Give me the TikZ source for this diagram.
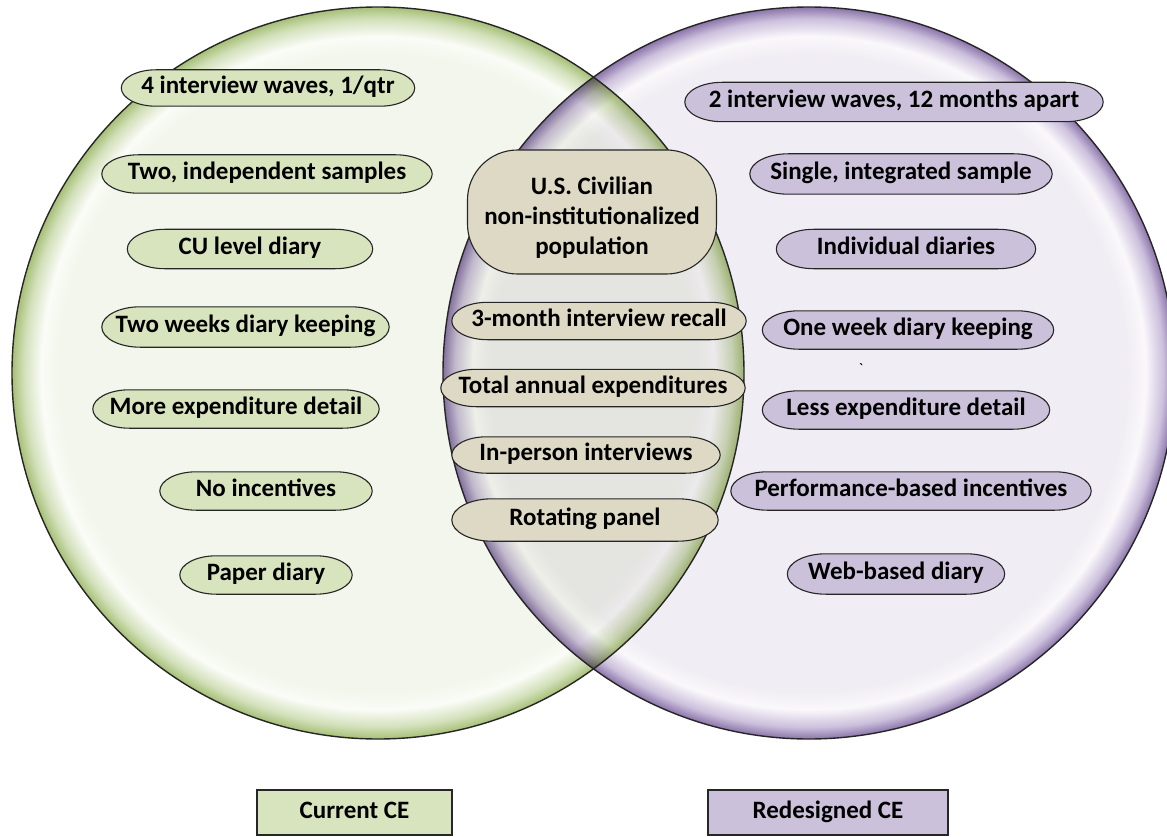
\documentclass[tikz,border=0pt]{standalone}
\usepackage{fontspec}
\setmainfont{Carlito}
\usetikzlibrary{calc}
\definecolor{gIn}{HTML}{F2F6EC}
\definecolor{gHi}{HTML}{FAFCF7}
\definecolor{gMid}{HTML}{D2E0B9}
\definecolor{gOut}{HTML}{A6BF76}
\definecolor{pIn}{HTML}{F1EDF4}
\definecolor{pHi}{HTML}{FAF8FB}
\definecolor{pMid}{HTML}{CCC0DC}
\definecolor{pOut}{HTML}{8B75AA}
\definecolor{gpill}{HTML}{D7E4BD}
\definecolor{ppill}{HTML}{CCC1DA}
\definecolor{tpill}{HTML}{DDD9C4}
\definecolor{edge}{HTML}{262626}
\pgfdeclareradialshading{greenball}{\pgfpointorigin}{color(0bp)=(gIn); color(21.8bp)=(gIn); color(23.0bp)=(gHi); color(24.2bp)=(gMid); color(25bp)=(gOut); color(50bp)=(gOut)}
\pgfdeclareradialshading{purpleball}{\pgfpointorigin}{color(0bp)=(pIn); color(21.8bp)=(pIn); color(23.0bp)=(pHi); color(24.2bp)=(pMid); color(25bp)=(pOut); color(50bp)=(pOut)}
\pgfdeclarelayer{circles}
\pgfdeclarelayer{pills}
\pgfsetlayers{circles,pills,main}
\begin{document}
\begin{tikzpicture}[x=1pt,y=-1pt,
  txt/.style={font=\bfseries\fontsize{25}{30}\selectfont, text=black, align=center},
  pw/.style 2 args={txt, rectangle, inner sep=0pt, minimum width=#1pt, minimum height=#2pt, text height=15.5pt, text depth=4.5pt},
  keybox/.style={txt, rectangle, draw=edge, line width=1.2pt, inner sep=0pt, text height=15.5pt, text depth=4.5pt},
  pillline/.style={draw=edge, line width=1.1pt}]
\useasboundingbox (0,0) rectangle (1167,837);

% left pills
\node[pw={293}{36}] (L1) at (268,88) {4 interview waves, 1/qtr};
\node[pw={330}{38}] (L2) at (267,174) {Two, independent samples};
\node[pw={245}{39}] (L3) at (250,249) {CU level diary};
\node[pw={287}{40}] (L4) at (245.5,327) {Two weeks diary keeping};
\node[pw={286}{38}] (L5) at (236,409) {More expenditure detail};
\node[pw={212}{38}] (L6) at (266,491) {No incentives};
\node[pw={172}{38}] (L7) at (266,575) {Paper diary};
% right pills
\node[pw={418}{39}] (R1) at (894,102) {2 interview waves, 12 months apart};
\node[pw={302}{40}] (R2) at (901,174) {Single, integrated sample};
\node[pw={259}{39}] (R3) at (906,249) {Individual diaries};
\node[pw={291}{38}] (R4) at (908,330) {One week diary keeping};
\node[pw={287}{38}] (R5) at (906,410) {Less expenditure detail};
\node[pw={360}{38}] (R6) at (911,491) {Performance-based incentives};
\node[pw={217}{40}] (R7) at (896,574) {Web-based diary};
% centre
\node[rectangle, draw=edge, line width=1.1pt, fill=tpill, rounded corners=50pt,
      minimum width=249pt, minimum height=124pt, inner sep=0pt] (C1box) at (592,212) {};
\node[txt, inner sep=0pt] (C1) at (592,218) {U.S. Civilian\\non-institutionalized\\population};
\node[pw={294}{37}] (C2) at (599,321) {3-month interview recall};
\node[pw={304}{37}] (C3) at (593,388) {Total annual expenditures};
\node[pw={268}{36}] (C4) at (586,455) {In-person interviews};
\node[pw={266}{42}] (C5) at (585,520) {Rotating panel};
% stray mark
\node[font=\fontsize{16}{16}\selectfont, inner sep=0pt] (tick) at (861,369) {\textasciigrave};
% legend
\node[keybox, fill=gpill, minimum width=195pt, minimum height=45pt] (K1) at (354.5,812.5) {Current CE};
\node[keybox, fill=ppill, minimum width=240pt, minimum height=45pt] (K2) at (828,812.5) {Redesigned CE};

\begin{pgfonlayer}{circles}
  \fill[white] (0,0) rectangle (1167,837);
  \shade[shading=greenball] (378,373) circle[radius=366pt];
  \begin{scope}[blend mode=multiply]
    \shade[shading=purpleball] (809,373) circle[radius=366pt];
  \end{scope}
  \draw[edge, line width=1.4pt] (378,373) circle[radius=366pt];
  \draw[edge, line width=1.4pt] (809,373) circle[radius=366pt];
\end{pgfonlayer}

\begin{pgfonlayer}{pills}
\foreach \nm/\cl in {L1/gpill,L2/gpill,L3/gpill,L4/gpill,L5/gpill,L6/gpill,L7/gpill,
                     R1/ppill,R2/ppill,R3/ppill,R4/ppill,R5/ppill,R6/ppill,R7/ppill,
                     C2/tpill,C3/tpill,C4/tpill,C5/tpill}{
  \path let \p1=(\nm.north west), \p2=(\nm.south east),
            \n1={(\y1-\y2)/2}, \n2={1.9*\n1} in
    [pillline, fill=\cl]
    (\x1+\n2*1pt,\y1) -- (\x2-\n2*1pt,\y1)
    arc[start angle=90, end angle=-90, x radius=\n2*1pt, y radius=\n1*1pt]
    -- (\x1+\n2*1pt,\y2)
    arc[start angle=270, end angle=90, x radius=\n2*1pt, y radius=\n1*1pt]
    -- cycle;
}
\end{pgfonlayer}
\end{tikzpicture}
\end{document}
